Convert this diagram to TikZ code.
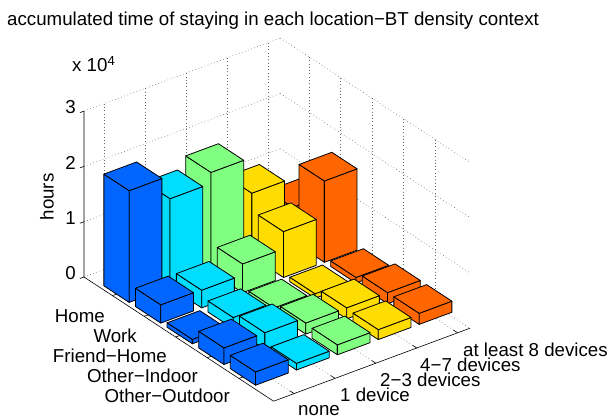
\documentclass[tikz,border=0pt]{standalone}
\usepackage{fontspec}
\setmainfont{Liberation Sans}
\definecolor{c1}{rgb}{0,0.4,1}
\definecolor{c2}{rgb}{0,0.867,1}
\definecolor{c3}{rgb}{0.5,1,0.5}
\definecolor{c4}{rgb}{1,0.867,0}
\definecolor{c5}{rgb}{1,0.4,0}
\newcommand\drawbar[4]{%
  \pgfmathsetmacro\ua{#1-0.5}\pgfmathsetmacro\ub{#1+0.3}%
  \pgfmathsetmacro\va{#2-0.9}\pgfmathsetmacro\vb{#2-0.1}%
  \filldraw[barline, fill=#4] (\ua,\va,0) -- (\ub,\va,0) -- (\ub,\va,#3) -- (\ua,\va,#3) -- cycle;
  \filldraw[barline, fill=#4] (\ub,\va,0) -- (\ub,\vb,0) -- (\ub,\vb,#3) -- (\ub,\va,#3) -- cycle;
  \filldraw[barline, fill=#4] (\ua,\va,#3) -- (\ub,\va,#3) -- (\ub,\vb,#3) -- (\ua,\vb,#3) -- cycle;
}
\begin{document}
\begin{tikzpicture}[x=1pt,y=1pt,
  barline/.style={draw=black, line width=0.8pt, line join=round},
  gridline/.style={draw=black!60, line width=0.5pt, dash pattern=on 0.7pt off 2.6pt},
  axisline/.style={draw=black, line width=0.6pt},
  lbl/.style={font=\fontsize{18.7}{20}\selectfont, inner sep=0pt, text=black}]
\useasboundingbox (0,0) rectangle (609,418);
\fill[white] (0,0) rectangle (609,418);
% title and annotations (y = 418 - pixel row)
\node[lbl, anchor=base west] (title) at (7,392) {accumulated time of staying in each location−BT density context};
\node[lbl, anchor=base west] (mult) at (72,346) {x 10\textsuperscript{4}};
\node[lbl, anchor=center, rotate=90] (hours) at (47,221) {hours};
\begin{scope}[shift={(84,141)}, x={(31.6pt,-20.7pt)}, y={(40.9pt,15.2pt)}, z={(0pt,55.3pt)}]
  % back wall u=0
  \foreach \v in {0.5,1.5,2.5,3.5,4.5} \draw[gridline] (0,\v,0) -- (0,\v,3);
  \foreach \w in {0,1,2,3} \draw[gridline] (0,0,\w) -- (0,4.8,\w);
  % back wall v=4.8
  \foreach \u in {0.9,1.9,2.9,3.9,4.9} \draw[gridline] (\u,4.8,0) -- (\u,4.8,3);
  \foreach \w in {0,1,2,3} \draw[gridline] (0,4.8,\w) -- (6,4.8,\w);
  % floor
  \foreach \u in {0.9,1.9,2.9,3.9,4.9} \draw[gridline] (\u,0,0) -- (\u,4.8,0);
  \foreach \v in {0.5,1.5,2.5,3.5,4.5} \draw[gridline] (0,\v,0) -- (6,\v,0);
  % axes
  \coordinate (L) at (0,0,0);
  \coordinate (T) at (0,0,3);
  \coordinate (F) at (6,0,0);
  \coordinate (R) at (6,4.8,0);
  \draw[axisline] (T) -- (L) -- (F) -- (R);
  \foreach \w in {0,1,2,3} \draw[axisline] (0,0,\w) -- (0,-0.1,\w);
  \foreach \u in {0.9,1.9,2.9,3.9,4.9} \draw[axisline] (\u,0,0) -- (\u,0.1,0);
  \foreach \v in {0.5,1.5,2.5,3.5,4.5} \draw[axisline] (6,\v,0) -- (5.87,\v,0);
  % bars: rows back to front, columns right to left
  \foreach \i/\j/\h in {
    1/5/0.62, 1/4/1.15, 1/3/1.8, 1/2/1.6, 1/1/2.02,
    2/5/1.47, 2/4/0.83, 2/3/0.52, 2/2/0.32, 2/1/0.33,
    3/5/0.1, 3/4/0.08, 3/3/0.1, 3/2/0.2, 3/1/0.08,
    4/5/0.2, 4/4/0.2, 4/3/0.2, 4/2/0.3, 4/1/0.3,
    5/5/0.2, 5/4/0.18, 5/3/0.18, 5/2/0.12, 5/1/0.24}
    {\drawbar{\i}{\j}{\h}{c\j}}
\end{scope}
% z tick labels
\node[lbl, anchor=east] (z0) at (76,144.5) {0};
\node[lbl, anchor=east] (z1) at (76,199.5) {1};
\node[lbl, anchor=east] (z2) at (76,255) {2};
\node[lbl, anchor=east] (z3) at (76,310.5) {3};
% location labels
\node[lbl, anchor=base east] (home) at (105,96) {Home};
\node[lbl, anchor=base east] (work) at (137,76) {Work};
\node[lbl, anchor=base east] (friend) at (167,56) {Friend−Home};
\node[lbl, anchor=base east] (indoor) at (198,36) {Other−Indoor};
\node[lbl, anchor=base east] (outdoor) at (230,16) {Other−Outdoor};
% density labels
\node[lbl, anchor=base west] (none) at (298,3) {none};
\node[lbl, anchor=base west] (one) at (340,17) {1 device};
\node[lbl, anchor=base west] (two) at (380,32) {2−3 devices};
\node[lbl, anchor=base west] (four) at (420,47) {4−7 devices};
\node[lbl, anchor=base west] (eight) at (463,62) {at least 8 devices};
\end{tikzpicture}
\end{document}
